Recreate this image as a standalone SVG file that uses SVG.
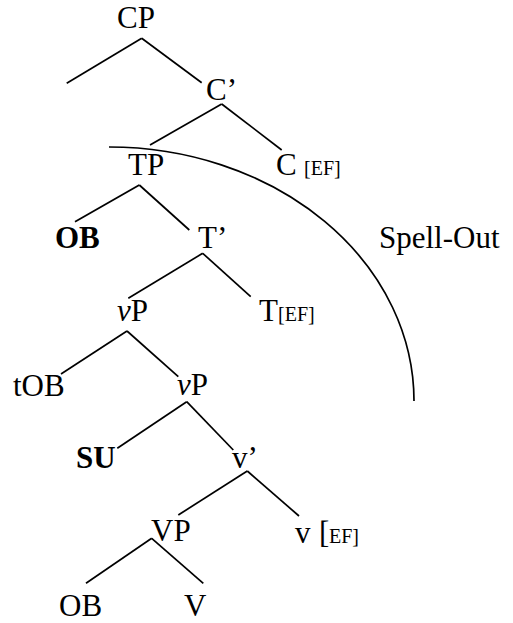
<svg xmlns="http://www.w3.org/2000/svg" width="513" height="623" viewBox="0 0 513 623">
<style>
.t{font-family:'Liberation Serif','DejaVu Serif',serif;font-size:31px;fill:#000}
.b{font-weight:bold}
.s{font-size:20px}
.i{font-style:italic}
.c line,.c path{stroke:#000;stroke-width:1.7;fill:none}
</style>
<rect width="513" height="623" fill="#fff"/>
<g id="connectors" class="c">
<line x1="141.7" y1="38.3" x2="66.7" y2="83.3"/>
<line x1="141.7" y1="38.3" x2="201.7" y2="82.7"/>
<line x1="221.7" y1="104" x2="150" y2="145"/>
<line x1="221.7" y1="104" x2="281.7" y2="150"/>
<line x1="139.3" y1="185" x2="75" y2="221.7"/>
<line x1="139.3" y1="185" x2="189.3" y2="230"/>
<line x1="202.7" y1="253.3" x2="128.3" y2="298.3"/>
<line x1="202.7" y1="253.3" x2="250.7" y2="296.7"/>
<line x1="127" y1="331" x2="61" y2="374"/>
<line x1="127" y1="331" x2="178.3" y2="376.7"/>
<line x1="186.7" y1="401.7" x2="117.3" y2="448.3"/>
<line x1="186.7" y1="401.7" x2="233.3" y2="450"/>
<line x1="247.3" y1="471" x2="178.3" y2="515"/>
<line x1="247.3" y1="471" x2="299" y2="516"/>
<line x1="151.7" y1="538.3" x2="86" y2="583.3"/>
<line x1="151.7" y1="538.3" x2="203.3" y2="583.3"/>
<path id="spellout-arc" d="M109,147 A305,254 0 0 1 414,401"/>
</g>
<g class="t" font-family="Liberation Serif, serif">
<g id="CP"><text x="117" y="28">CP</text></g>
<g id="Cbar"><text x="206" y="100">C’</text></g>
<g id="TP"><text x="128" y="175">TP</text></g>
<g id="C-EF"><text x="276" y="175">C</text><text class="s" x="304" y="175">[EF]</text></g>
<g id="OB-top"><text class="b" x="55" y="248">OB</text></g>
<g id="Tbar"><text x="198" y="248">T’</text></g>
<g id="vP1"><text x="117" y="321"><tspan class="i">v</tspan>P</text></g>
<g id="T-EF"><text x="259" y="321">T</text><text class="s" x="278" y="321">[EF]</text></g>
<g id="tOB"><text x="13" y="396">tOB</text></g>
<g id="vP2"><text x="177" y="395"><tspan class="i">v</tspan>P</text></g>
<g id="SU"><text class="b" x="76" y="468">SU</text></g>
<g id="vbar"><text x="232" y="468">v’</text></g>
<g id="VP"><text x="151" y="541">VP</text></g>
<g id="v-EF"><text x="295" y="543">v</text><text x="319" y="543">[</text><text class="s" x="329" y="543">EF]</text></g>
<g id="OB-low"><text x="59" y="616">OB</text></g>
<g id="V"><text x="184" y="616">V</text></g>
<g id="Spell-Out"><text x="379" y="248">Spell-Out</text></g>
</g>
</svg>
